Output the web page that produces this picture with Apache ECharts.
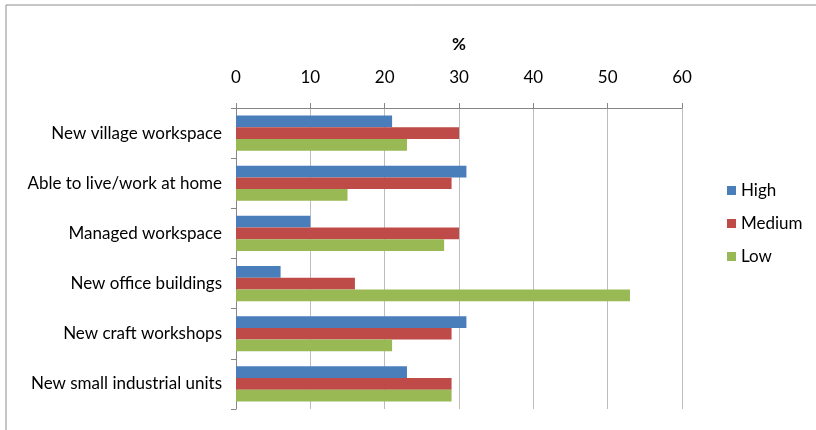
<!DOCTYPE html>
<html><head><meta charset="utf-8">
<script src="https://cdn.jsdelivr.net/npm/echarts@6/dist/echarts.min.js"></script>
<style>html,body{margin:0;padding:0;background:#fff}#c{width:816px;height:430px}</style>
</head><body><div id="c"></div>
<script>
const categories = ["New village workspace","Able to live/work at home","Managed workspace","New office buildings","New craft workshops","New small industrial units"];
const high = [21, 31, 10, 6, 31, 23];
const medium = [30, 29, 30, 16, 29, 29];
const low = [23, 15, 28, 53, 21, 29];
const xTicks = [0, 10, 20, 30, 40, 50, 60];

const FONT = 'Lato';
const chart = echarts.init(document.getElementById('c'), null, {renderer:'canvas'});
chart.setOption({
  animation:false,
  backgroundColor:'#fff',
  graphic:[{type:'rect', shape:{x:6,y:5,width:830,height:440}, style:{fill:'none',stroke:'#8c8c8c',lineWidth:1}}],
  legend:{
    orient:'vertical', left:722, top:177, itemWidth:9, itemHeight:9, itemGap:16,
    icon:'rect', textStyle:{fontFamily:FONT,fontSize:17,color:'#000',padding:[0,0,0,0]},
    data:['High','Medium','Low']
  },
  grid:{left:236, right:134, top:108, bottom:21, containLabel:false},
  xAxis:{
    type:'value', position:'top', min:xTicks[0], max:xTicks[xTicks.length-1], interval:10,
    name:'%', nameLocation:'middle', nameGap:55,
    nameTextStyle:{fontFamily:FONT,fontSize:17,fontWeight:'bold',color:'#000'},
    axisLine:{show:true,lineStyle:{color:'#868686'}},
    axisTick:{show:true,length:5,inside:false,lineStyle:{color:'#868686'}},
    axisLabel:{fontFamily:FONT,fontSize:17,color:'#000',margin:22},
    splitLine:{show:true,lineStyle:{color:'#bdbdbd',width:1}}
  },
  yAxis:{
    type:'category', inverse:true, data:categories,
    axisLine:{show:true,lineStyle:{color:'#868686'}},
    axisTick:{show:true,alignWithLabel:false,length:5,lineStyle:{color:'#868686'}},
    axisLabel:{fontFamily:FONT,fontSize:17,color:'#000',margin:14},
    splitLine:{show:false}
  },
  series:[
    {name:'High',type:'bar',data:high,itemStyle:{color:'#4a7ebb'},barGap:'0%',barCategoryGap:'30%'},
    {name:'Medium',type:'bar',data:medium,itemStyle:{color:'#be4b48'},barGap:'0%',barCategoryGap:'30%'},
    {name:'Low',type:'bar',data:low,itemStyle:{color:'#98b954'},barGap:'0%',barCategoryGap:'30%'}
  ]
});
</script></body></html>
